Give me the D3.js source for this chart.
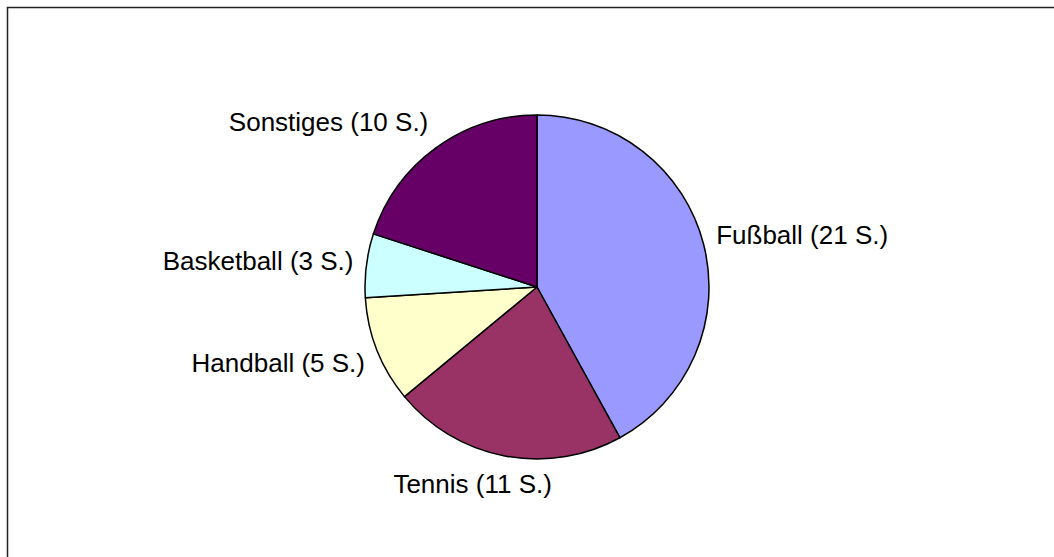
<!DOCTYPE html>
<html>
<head>
<meta charset="utf-8">
<script src="https://cdn.jsdelivr.net/npm/d3@7"></script>
<style>
  body { margin: 0; background: #fff; }
  svg { display: block; }
</style>
</head>
<body>
<script>
// Data
const sports = ["Fußball", "Tennis", "Handball", "Basketball", "Sonstiges"];
const counts = [21, 11, 5, 3, 10];
const colors = ["#9999FF", "#993366", "#FFFFCC", "#CCFFFF", "#660066"];

// Layout
const width = 1054, height = 557;
const cx = 537, cy = 287, radius = 172;
const labelR = radius + 13;
const fontSize = 26;

const svg = d3.select("body").append("svg")
    .attr("width", width)
    .attr("height", height);

// chart frame (runs off the right and bottom edge)
svg.append("rect")
    .attr("x", 7.5).attr("y", 7.5)
    .attr("width", 1100).attr("height", 600)
    .attr("fill", "none")
    .attr("stroke", "#222")
    .attr("stroke-width", 1.5);

const pie = d3.pie().sort(null).value(d => d);
const arcs = pie(counts);
const arc = d3.arc().innerRadius(0).outerRadius(radius);

const g = svg.append("g").attr("transform", `translate(${cx},${cy})`);

g.selectAll("path")
    .data(arcs)
    .enter()
    .append("path")
    .attr("d", arc)
    .attr("fill", (d, i) => colors[i])
    .attr("stroke", "#000")
    .attr("stroke-width", 1.5)
    .attr("stroke-linejoin", "round");

// labels outside, box attached to the mid angle
const clamp = v => Math.max(-1, Math.min(1, v));
const lineH = 30;

g.selectAll("text")
    .data(arcs)
    .enter()
    .append("text")
    .attr("font-family", "Arial, 'Liberation Sans', sans-serif")
    .attr("font-size", fontSize)
    .attr("fill", "#000")
    .attr("text-anchor", "middle")
    .attr("dominant-baseline", "central")
    .text((d, i) => `${sports[i]} (${counts[i]} S.)`)
    .each(function(d) {
        const a = (d.startAngle + d.endAngle) / 2;
        const s = Math.sin(a), c = Math.cos(a);
        const w = this.getComputedTextLength();
        const px = labelR * s, py = -labelR * c;
        const ax = clamp(s * 2), ay = clamp(-c * 1.5);
        d3.select(this)
            .attr("x", px + ax * w / 2)
            .attr("y", py + ay * lineH / 2);
    });
</script>
</body>
</html>
